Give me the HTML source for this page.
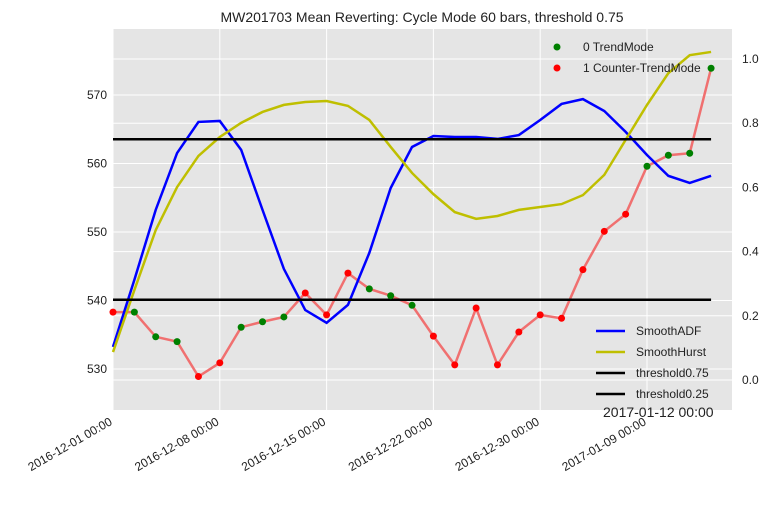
<!DOCTYPE html>
<html><head><meta charset="utf-8"><style>
body{margin:0;background:#fff;}
svg text{font-family:"Liberation Sans",Arial,sans-serif;fill:#222;}
</style></head><body>
<svg id="chart" width="771" height="500" xmlns="http://www.w3.org/2000/svg">
<rect x="113" y="29" width="619" height="381" fill="#e5e5e5"/>
<g id="grid"></g><g id="marks"></g><g id="axes"></g>
<text x="422" y="22" font-size="14" text-anchor="middle">MW201703 Mean Reverting: Cycle Mode 60 bars, threshold 0.75</text>
<text x="603" y="417" font-size="14">2017-01-12 00:00</text>
<g>
<circle cx="557" cy="47" r="3.5" fill="green"/><text x="583" y="51" font-size="12">0 TrendMode</text>
<circle cx="557" cy="68" r="3.5" fill="red"/><text x="583" y="72" font-size="12">1 Counter-TrendMode</text>
</g>
<g>
<line x1="596" y1="331" x2="625" y2="331" stroke="blue" stroke-width="2.5"/><text x="636" y="335" font-size="12">SmoothADF</text>
<line x1="596" y1="352" x2="625" y2="352" stroke="#bfbf00" stroke-width="2.5"/><text x="636" y="356" font-size="12">SmoothHurst</text>
<line x1="596" y1="373" x2="625" y2="373" stroke="#000" stroke-width="2.5"/><text x="636" y="377" font-size="12">threshold0.75</text>
<line x1="596" y1="394" x2="625" y2="394" stroke="#000" stroke-width="2.5"/><text x="636" y="398" font-size="12">threshold0.25</text>
</g>
</svg>
<script>
const price=[538.3,538.3,534.7,534.0,528.9,530.9,536.1,536.9,537.6,541.1,537.9,544.0,541.7,540.7,539.3,534.8,530.6,538.9,530.6,535.4,537.9,537.4,544.5,550.1,552.6,559.6,561.2,561.5,573.9];
const mode=[1,0,0,0,1,1,0,0,0,1,1,1,0,0,0,1,1,1,1,1,1,1,1,1,1,0,0,0,0];
const adf=[0.103,0.312,0.530,0.707,0.804,0.807,0.717,0.530,0.346,0.218,0.178,0.234,0.396,0.598,0.726,0.760,0.757,0.757,0.751,0.763,0.810,0.860,0.875,0.838,0.773,0.701,0.636,0.614,0.636];
const hurst=[0.087,0.280,0.467,0.601,0.698,0.757,0.801,0.835,0.857,0.866,0.869,0.854,0.810,0.726,0.645,0.579,0.523,0.502,0.511,0.530,0.539,0.548,0.576,0.639,0.748,0.857,0.956,1.012,1.022];
const thresholds=[0.75,0.25];
const leftTicks=[530,540,550,560,570];
const rightTicks=[0.0,0.2,0.4,0.6,0.8,1.0];
const xTickIdx=[0,5,10,15,20,25];
const xTickLabels=["2016-12-01 00:00","2016-12-08 00:00","2016-12-15 00:00","2016-12-22 00:00","2016-12-30 00:00","2017-01-09 00:00"];
const X0=113,X1=732,Y0=29,Y1=410;
const xs=i=>X0+i*21.36;
const yL=v=>369-(v-530)*6.85;
const yR=v=>380-v*321;
const NS="http://www.w3.org/2000/svg";
function mk(tag,attrs,parent){const e=document.createElementNS(NS,tag);for(const k in attrs)e.setAttribute(k,attrs[k]);document.getElementById(parent).appendChild(e);return e;}
leftTicks.forEach(v=>{const l=mk('line',{x1:X0,x2:X1,y1:yL(v),y2:yL(v),stroke:'#fff','stroke-width':1},'grid');

const t=mk('text',{x:X0-6,y:yL(v)+4,'font-size':12,'text-anchor':'end'},'axes');t.textContent=v;
});
rightTicks.forEach(v=>{const l=mk('line',{x1:X0,x2:X1,y1:yR(v),y2:yR(v),stroke:'#fff','stroke-width':1},'grid');

const t=mk('text',{x:X1+10,y:yR(v)+4,'font-size':12},'axes');t.textContent=v.toFixed(1);
});
xTickIdx.forEach((i,k)=>{const x=xs(i);const l=mk('line',{x1:x,x2:x,y1:Y0,y2:Y1,stroke:'#fff','stroke-width':1},'grid');

const t=mk('text',{x:x,y:Y1+14,'font-size':12,'text-anchor':'end',transform:`rotate(-30 ${x} ${Y1+14})`},'axes');t.textContent=xTickLabels[k];
});
const pp=price.map((v,i)=>xs(i)+','+yL(v)).join(' ');
const pl=mk('polyline',{points:pp,fill:'none',stroke:'#f07070','stroke-width':2.5},'marks');

const al=mk('polyline',{points:adf.map((v,i)=>xs(i)+','+yR(v)).join(' '),fill:'none',stroke:'blue','stroke-width':2.5},'marks');

const hl=mk('polyline',{points:hurst.map((v,i)=>xs(i)+','+yR(v)).join(' '),fill:'none',stroke:'#bfbf00','stroke-width':2.5},'marks');

thresholds.forEach(v=>{const l=mk('line',{x1:X0,x2:xs(28),y1:yR(v),y2:yR(v),stroke:'#000','stroke-width':2.5},'marks');
});
price.forEach((v,i)=>{const c=mk('circle',{cx:xs(i),cy:yL(v),r:3.5,fill:mode[i]?'red':'green'},'marks');
});
</script>
</body></html>
